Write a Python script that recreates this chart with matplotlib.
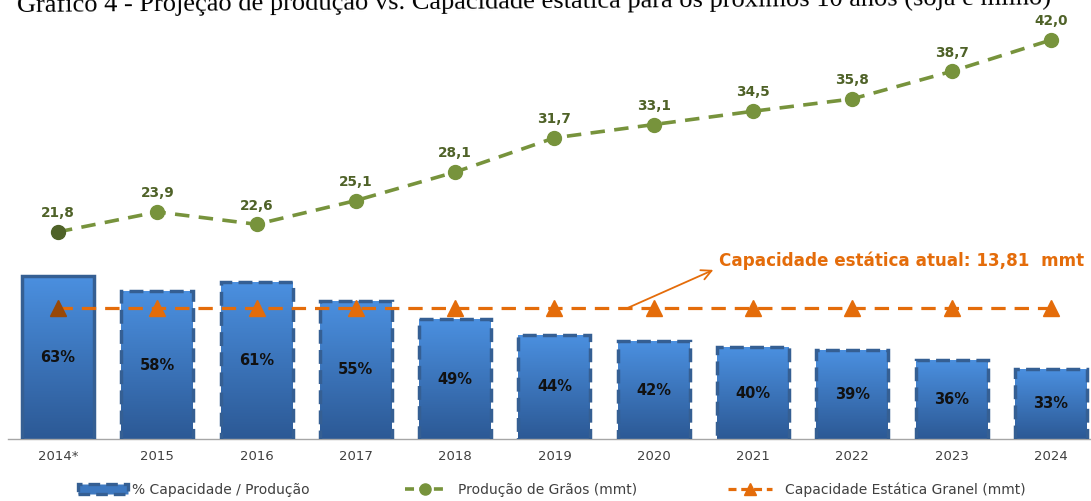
import matplotlib
matplotlib.use("Agg")
import matplotlib.pyplot as plt
import numpy as np
from matplotlib.lines import Line2D
from matplotlib.patches import Patch
from matplotlib.colors import LinearSegmentedColormap

# ---- data ----
years = ["2014*", "2015", "2016", "2017", "2018", "2019", "2020", "2021", "2022", "2023", "2024"]
pct_cap = [63, 58, 61, 55, 49, 44, 42, 40, 39, 36, 33]
producao = [21.8, 23.9, 22.6, 25.1, 28.1, 31.7, 33.1, 34.5, 35.8, 38.7, 42.0]
capacidade = [13.81] * 11
prod_labels = ["21,8", "23,9", "22,6", "25,1", "28,1", "31,7", "33,1", "34,5", "35,8", "38,7", "42,0"]
pct_labels = [f"{v}%" for v in pct_cap]

title = "Gráfico 4 - Projeção de produção vs. Capacidade estática para os próximos 10 anos (soja e milho)"
annot = "Capacidade estática atual: 13,81  mmt"
leg_labels = ["% Capacidade / Produção", "Produção de Grãos (mmt)", "Capacidade Estática Granel (mmt)"]

GREEN = "#77933C"
GREEN_D = "#4F6228"
ORANGE = "#E46C0A"
ORANGE_D = "#984807"
EDGE = "#355F93"
TXT = "#404040"

W, H = 1091, 501
fig = plt.figure(figsize=(W / 100, H / 100), dpi=100)

# axes geometry in pixels
left_px, right_px = 8.35, 1100.6
base_px, top_px = 439, 0
ax = fig.add_axes([left_px / W, (H - base_px) / H, (right_px - left_px) / W, (base_px - top_px) / H])
ax2 = ax.twinx()

x = np.arange(len(years))
ax.set_xlim(-0.5, len(years) - 0.5)
ax.set_ylim(10.4, 10.4 + 439 / 3.1)
ax2.set_ylim(0, 439 / 9.5)

# bars with gradient
cmap = LinearSegmentedColormap.from_list("g", ["#2C5995", "#4B90E0"])
grad = np.linspace(0, 1, 256).reshape(-1, 1)
bars = ax.bar(x, pct_cap, width=0.725, bottom=0, color="none", zorder=2)
for i, b in enumerate(bars):
    bx, by = b.get_x(), 10.4
    bw, bh = b.get_width(), b.get_height()
    im = ax.imshow(grad, extent=[bx, bx + bw, by, bh], origin="lower", cmap=cmap,
                   aspect="auto", zorder=2)
    im.set_clip_path(b)
    b.set_edgecolor(EDGE)
    b.set_linewidth(2.5)
    if i == 0:
        b.set_linestyle("-")
    else:
        b.set_linestyle((0, (4, 1.8)))
    b.set_zorder(3)
ax.set_xlim(-0.5, len(years) - 0.5)
ax.set_ylim(10.4, 10.4 + 439 / 3.1)

for xi, v, lab in zip(x, pct_cap, pct_labels):
    ax.text(xi, (v + 10.4) / 2, lab, ha="center", va="center", fontsize=10.5,
            fontweight="bold", color="#111111", zorder=4)

# lines
ax2.plot(x, capacidade, color=ORANGE, lw=2.3, dashes=(4.5, 2.8), zorder=5)
ax2.plot(x[1:], capacidade[1:], ls="none", marker="^", ms=11, color=ORANGE, zorder=6)
ax2.plot(x[:1], capacidade[:1], ls="none", marker="^", ms=11, color=ORANGE_D, zorder=6)

ax2.plot(x, producao, color=GREEN, lw=2.6, dashes=(4, 2.6), zorder=5)
ax2.plot(x[1:], producao[1:], ls="none", marker="o", ms=10, color=GREEN, zorder=6)
ax2.plot(x[:1], producao[:1], ls="none", marker="o", ms=10, color=GREEN_D, zorder=6)
for xi, v, lab in zip(x, producao, prod_labels):
    ax2.annotate(lab, (xi, v), xytext=(0, 13.5), textcoords="offset points",
                 ha="center", va="center", fontsize=9.8, fontweight="bold", color=GREEN_D)

# annotation
ax2.annotate("", xy=(6.60, 17.8), xytext=(5.74, 13.81),
             arrowprops=dict(arrowstyle="->", color=ORANGE, lw=1.3, mutation_scale=18,
                             shrinkA=0, shrinkB=0), zorder=7)
ax2.text(6.66, 18.75, annot, ha="left", va="center", fontsize=12.1,
         fontweight="bold", color=ORANGE)

# axis styling
for a in (ax, ax2):
    for s in a.spines.values():
        s.set_visible(False)
ax.spines["bottom"].set_visible(True)
ax.spines["bottom"].set_color("#A6A6A6")
ax.spines["bottom"].set_linewidth(1.0)
ax.set_yticks([])
ax2.set_yticks([])
ax.set_xticks(x)
ax.set_xticklabels(years, fontsize=9.5, color=TXT)
ax.tick_params(axis="x", length=0, pad=8)
ax.patch.set_visible(False)

# title (clipped at top, as in the source image)
fig.text(17 / W, (H - 12.5) / H, title, ha="left", va="baseline",
         fontsize=19, family="Liberation Serif", color="black",
         rotation=0.42, rotation_mode="anchor")

# legends
h_bar = Patch(facecolor="#3D78C0", edgecolor=EDGE, linewidth=2.4, linestyle=(0, (3.5, 1.8)))
h_g = Line2D([], [], color=GREEN, lw=2.6, marker="o", ms=8, dashes=(2.5, 1.5))
h_o = Line2D([], [], color=ORANGE, lw=2.3, marker="^", ms=9, dashes=(2.5, 1.5))
legspecs = [(h_bar, leg_labels[0], 78, 3.6), (h_g, leg_labels[1], 405, 2.9), (h_o, leg_labels[2], 728, 3.2)]
for h, lab, xp, hl in legspecs:
    leg = fig.legend([h], [lab], loc="center left", bbox_to_anchor=(xp / W, (H - 490) / H),
                     frameon=False, borderpad=0, borderaxespad=0, handlelength=hl,
                     handletextpad=0.9 if h is not h_bar else 0.3, fontsize=10,
                     labelcolor=TXT)

fig.savefig("out.png", dpi=100)
